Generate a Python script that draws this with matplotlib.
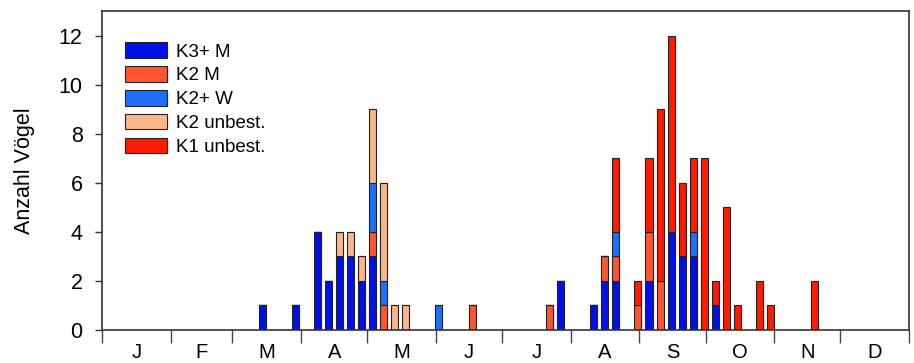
import matplotlib.pyplot as plt
import numpy as np

plt.rcParams['font.family'] = ['Liberation Sans', 'DejaVu Sans']

# pentad index (0..72, 5-day periods from 1 Jan) -> counts per class
pentads = [14, 17, 19, 20, 21, 22, 23, 24, 25, 26, 27, 30, 33, 40, 41,
           44, 45, 46, 48, 49, 50, 51, 52, 53, 54, 55, 56, 57, 59, 60, 64]
k3_m    = [1, 1, 4, 2, 3, 3, 2, 3, 0, 0, 0, 0, 0, 0, 2,
           1, 2, 2, 0, 2, 0, 4, 3, 3, 0, 1, 0, 0, 0, 0, 0]
k2_m    = [0, 0, 0, 0, 0, 0, 0, 1, 1, 0, 0, 0, 1, 1, 0,
           0, 1, 1, 1, 2, 2, 0, 0, 0, 0, 0, 0, 0, 0, 0, 0]
k2_w    = [0, 0, 0, 0, 0, 0, 0, 2, 1, 0, 0, 1, 0, 0, 0,
           0, 0, 1, 0, 0, 0, 0, 0, 1, 0, 0, 0, 0, 0, 0, 0]
k2_unb  = [0, 0, 0, 0, 1, 1, 1, 3, 4, 1, 1, 0, 0, 0, 0,
           0, 0, 0, 0, 0, 0, 0, 0, 0, 0, 0, 0, 0, 0, 0, 0]
k1_unb  = [0, 0, 0, 0, 0, 0, 0, 0, 0, 0, 0, 0, 0, 0, 0,
           0, 0, 3, 1, 3, 7, 8, 3, 3, 7, 1, 5, 1, 2, 1, 2]

labels = ['K3+ M', 'K2 M', 'K2+ W', 'K2 unbest.', 'K1 unbest.']
colors = ['#0010e6', '#ff5530', '#1e6eff', '#f8b68a', '#ff1a00']
months = ['J', 'F', 'M', 'A', 'M', 'J', 'J', 'A', 'S', 'O', 'N', 'D']
month_days = [31, 28, 31, 30, 31, 30, 31, 31, 30, 31, 30, 31]

fig = plt.figure(figsize=(9.14, 3.63), dpi=100)
ax = fig.add_axes([102/914, 33/363, 807/914, 319/363])

x = np.array(pentads) * 5 + 2.4
bottom = np.zeros(len(pentads))
for vals, lab, col in zip([k3_m, k2_m, k2_w, k2_unb, k1_unb], labels, colors):
    v = np.array(vals, dtype=float)
    ax.bar(x, v, width=3.2, bottom=bottom, color=col, edgecolor='#222222',
           linewidth=0.8, label=lab)
    bottom += v

edges = np.concatenate([[0], np.cumsum(month_days)])
mids = (edges[:-1] + edges[1:]) / 2
ax.set_xlim(0, 365)
ax.set_ylim(0, 13)
ax.set_xticks(edges)
ax.set_xticklabels([])
ax.set_xticks(mids, minor=True)
ax.set_xticklabels(months, minor=True)
ax.tick_params(axis='x', which='major', direction='out', length=9.5, width=1, color='#444444')
ax.tick_params(axis='x', which='minor', length=0, labelsize=14.5, pad=9.5)
ax.set_yticks(range(0, 13, 2))
ax.tick_params(axis='y', direction='out', length=5, width=1, labelsize=15.5, pad=9, color='#333333')
ax.set_ylabel('Anzahl Vögel', fontsize=15.5, labelpad=17)
for s in ax.spines.values():
    s.set_color('#333333')
    s.set_linewidth(1.2)

ax.legend(loc='upper left', bbox_to_anchor=(0.028, 0.902), frameon=False,
          fontsize=13.5, handlelength=2.25, handleheight=0.9, labelspacing=0.3,
          handletextpad=0.5, borderpad=0, borderaxespad=0)

fig.savefig('out.png', dpi=100)
